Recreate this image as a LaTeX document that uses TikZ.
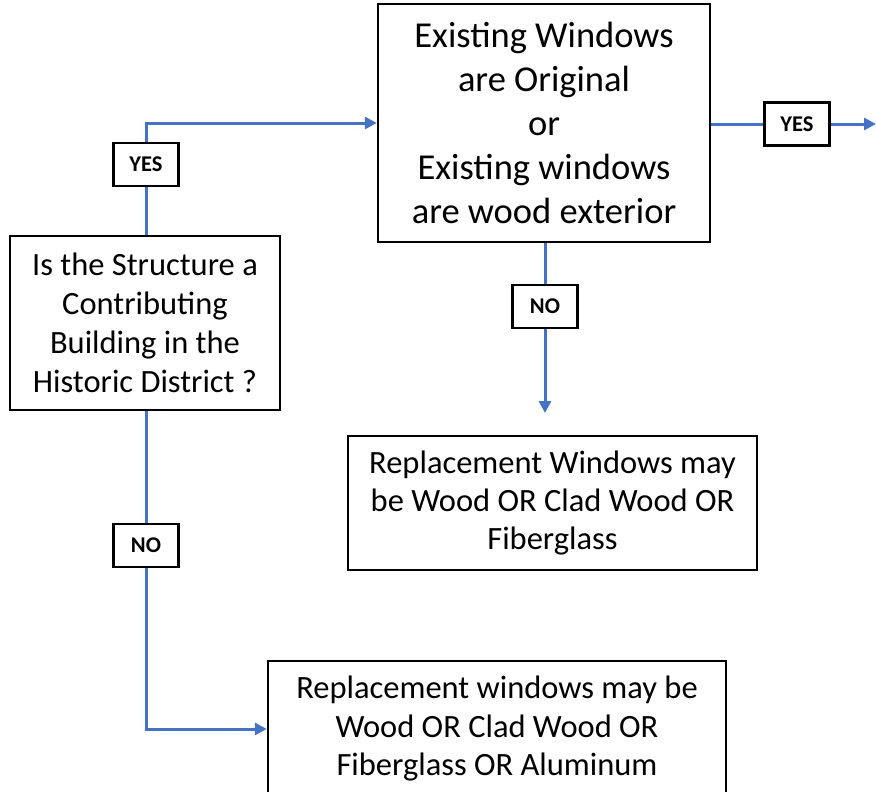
\documentclass[tikz,border=0pt]{standalone}
\usepackage{fontspec}
\setmainfont{Carlito}
\usetikzlibrary{arrows.meta}
\definecolor{flowblue}{HTML}{4472C4}
\begin{document}
\begin{tikzpicture}[x=1pt,y=-1pt,
  box/.style={draw=black,line width=2.4pt,fill=white,align=center,inner sep=0pt},
  lbl/.style={draw=black,line width=2.2pt,fill=white,font=\fontsize{22.5}{26}\selectfont\bfseries,minimum width=65pt,minimum height=43pt,inner sep=0pt},
  conn/.style={draw=flowblue,line width=3pt},
  arr/.style={conn,-{Triangle[length=12pt,width=12pt]}}]
\useasboundingbox (0,0) rectangle (876,792);
\node[box,minimum width=332pt,minimum height=238pt,font=\fontsize{36.5}{44}\selectfont] (A) at (544,123)
  {Existing Windows\\are Original\\or\\Existing windows\\are wood exterior};
\node[box,minimum width=270pt,minimum height=174pt,font=\fontsize{32.5}{39}\selectfont] (B) at (145,323)
  {Is the Structure a\\Contributing\\Building in the\\Historic District ?};
\node[box,minimum width=409pt,minimum height=134pt,font=\fontsize{32.5}{38}\selectfont] (C) at (552.5,503)
  {Replacement Windows may\\be Wood OR Clad Wood OR\\Fiberglass};
\node[box,minimum width=458pt,minimum height=136pt,font=\fontsize{32.5}{38.5}\selectfont] (D) at (497,729)
  {Replacement windows may be\\Wood OR Clad Wood OR\\Fiberglass OR Aluminum};
\node[lbl] (yes1) at (146,164.5) {YES};
\node[lbl] (yes2) at (797,124) {YES};
\node[lbl] (no1) at (545,306.5) {NO};
\node[lbl] (no2) at (146,545.5) {NO};
\coordinate (rend) at (876,124);
\coordinate (dend) at (545,413);
\draw[conn] (B.north -| yes1) -- (yes1.south);
\draw[arr] (yes1.north) |- (A.west);
\draw[conn] (A.east |- yes2) -- (yes2.west);
\draw[arr] (yes2.east) -- (rend);
\draw[conn] (A.south -| no1) -- (no1.north);
\draw[arr] (no1.south) -- (dend);
\draw[conn] (B.south -| no2) -- (no2.north);
\draw[arr] (no2.south) |- (D.west);
\end{tikzpicture}
\end{document}
